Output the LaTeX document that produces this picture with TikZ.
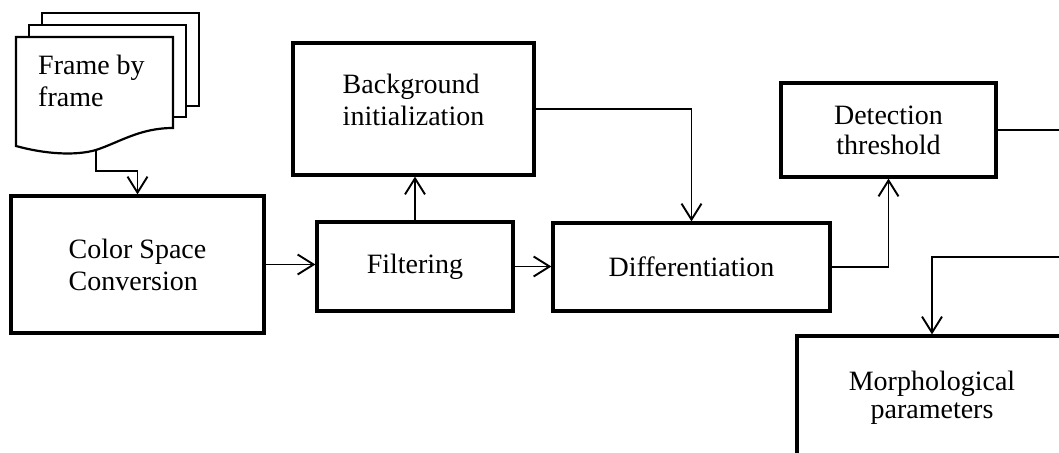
\documentclass[tikz,border=0pt]{standalone}
\usepackage{fontspec}
\setmainfont{Liberation Serif}
\usetikzlibrary{arrows.meta}
\begin{document}
\begin{tikzpicture}[x=1pt,y=-1pt,
  txt/.style={font=\fontsize{28}{32}\selectfont},
  box/.style={draw, line width=3.2pt, inner sep=0pt, txt},
  doc/.style={draw, line width=2.2pt, fill=white},
  conn/.style={line width=1.9pt, -{Straight Barb[length=16pt,width=20pt]}},
  plain/.style={line width=1.9pt}]
\useasboundingbox (0,0) rectangle (1059,452);
\clip (0,0) rectangle (1059,452);
% document stack
\draw[doc] (42,13) rectangle (199,106);
\draw[doc] (29,25) rectangle (186,117);
\draw[doc] (16,37) -- (173,37) -- (173,128) .. controls (140,128) and (120,142) .. (96,150) .. controls (75,156) and (45,154) .. (16,146) -- cycle;
\coordinate (docb) at (96,150);
\node[txt, anchor=north west, inner sep=0pt, align=left] (frametext) at (38,55) {Frame by\\frame};
% boxes
\node[box, minimum width=253pt, minimum height=137pt, align=left] (csc) at (137.5,264.5) {Color Space\\Conversion};
\node[box, minimum width=196pt, minimum height=89pt] (filt) at (415,266.5) {Filtering};
\node[box, minimum width=241pt, minimum height=132pt, align=left] (bg) at (413.5,109) {Background\\initialization\rule[-18pt]{0pt}{0pt}};
\node[box, minimum width=277pt, minimum height=88pt] (diff) at (691.5,267) {Differentiation};
\node[box, minimum width=215pt, minimum height=94pt, align=center] (det) at (888.5,130) {Detection\\[-2pt]threshold};
\node[box, minimum width=270pt, minimum height=124pt, align=center] (morph) at (932,398) {Morphological\\[-4pt]parameters};
% connectors
\draw[conn] (docb) -- ++(0,21) -| (csc.north);
\draw[conn] (csc.east) -- (csc.east -| filt.west);
\draw[conn] (filt.north) -- (filt.north |- bg.south);
\draw[conn] (bg.east) -| (diff.north);
\draw[conn] (filt.east) -- (filt.east -| diff.west);
\draw[conn] (diff.east) -| (det.south);
\coordinate (edgeA) at (1059,130);
\draw[plain] (det.east) -- (edgeA);
\coordinate (edgeB) at (1059,257);
\draw[conn] (edgeB) -| (morph.north);
\end{tikzpicture}
\end{document}
